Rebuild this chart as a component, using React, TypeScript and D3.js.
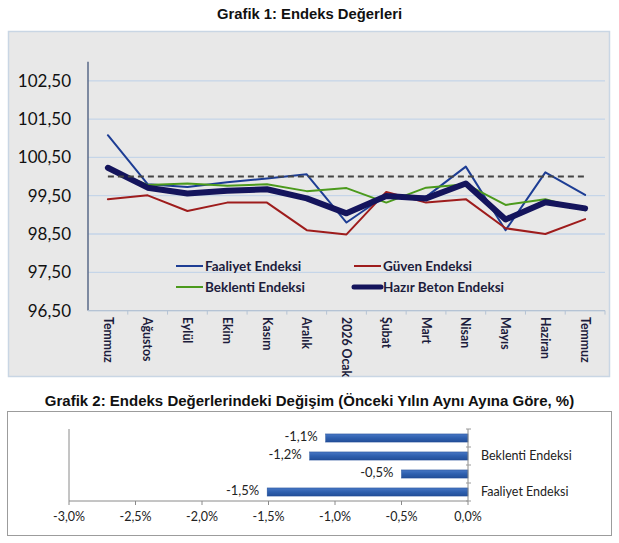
import React from "react";
import * as d3 from "d3";

const months = ["Temmuz", "Ağustos", "Eylül", "Ekim", "Kasım", "Aralık", "2026 Ocak", "Şubat", "Mart", "Nisan", "Mayıs", "Haziran", "Temmuz"];
const faaliyet = [101.08, 99.8, 99.73, 99.85, 99.95, 100.06, 98.8, 99.52, 99.47, 100.26, 98.6, 100.11, 99.52];
const guven = [99.41, 99.51, 99.1, 99.32, 99.32, 98.6, 98.49, 99.6, 99.32, 99.41, 98.65, 98.5, 98.89];
const beklenti = [100.2, 99.78, 99.82, 99.76, 99.8, 99.62, 99.7, 99.32, 99.71, 99.8, 99.26, 99.41, 99.12];
const hazirBeton = [100.23, 99.71, 99.56, 99.63, 99.67, 99.43, 99.04, 99.49, 99.43, 99.82, 98.88, 99.33, 99.17];
const referenceLevel = [100];
const yTicks = [96.5, 97.5, 98.5, 99.5, 100.5, 101.5, 102.5];

const changeCategories = ["Faaliyet Endeksi", "Güven Endeksi", "Beklenti Endeksi", "Hazır Beton Endeksi"];
const changeValues = [-1.51, -0.5, -1.19, -1.07];
const changeTicks = [-3, -2.5, -2, -1.5, -1, -0.5, 0];

const series = [
  { name: "Faaliyet Endeksi", values: faaliyet, color: "#1d3d94", width: 2 },
  { name: "Güven Endeksi", values: guven, color: "#9e1c1c", width: 2 },
  { name: "Beklenti Endeksi", values: beklenti, color: "#4b9a1c", width: 2 },
  { name: "Hazır Beton Endeksi", values: hazirBeton, color: "#14145c", width: 6 },
];

const fmt2 = (v: number) => v.toFixed(2).replace(".", ",");
const fmtPct = (v: number) => (Math.abs(v) < 1e-9 ? 0 : v).toFixed(1).replace(".", ",") + "%";

export default function App() {
  // Chart 1
  const x = d3.scaleBand<number>().domain(months.map((_, i) => i)).range([88, 605]);
  const xc = (i: number) => (x(i) as number) + x.bandwidth() / 2;
  const y = d3.scaleLinear().domain([96.5, 103]).range([310.6, 61.7]);
  const line = d3
    .line<number>()
    .x((_, i) => xc(i))
    .y((d) => y(d));

  // Chart 2
  const bx = d3.scaleLinear().domain([-3, 0]).range([69, 468]);
  const by = d3
    .scaleBand<string>()
    .domain([...changeCategories].reverse())
    .range([429, 501])
    .paddingInner(0.55)
    .paddingOuter(0.275);
  const step = by.step();
  const bandStart = 429;

  const legendItems = [
    { s: series[0], lx: 176, ly: 266 },
    { s: series[1], lx: 354, ly: 266 },
    { s: series[2], lx: 176, ly: 287 },
    { s: series[3], lx: 354, ly: 287 },
  ];

  const font = "Lato, 'Open Sans', sans-serif";

  return (
    <svg width={619} height={543} style={{ position: "absolute", left: 0, top: 0, background: "#fff" }}>
      <defs>
        <linearGradient id="barGrad" x1="0" y1="0" x2="0" y2="1">
          <stop offset="0" stopColor="#4877c4" />
          <stop offset="0.5" stopColor="#2e5fae" />
          <stop offset="1" stopColor="#234f99" />
        </linearGradient>
      </defs>
      {/* Chart 1 title */}
      <text x={309.5} y={18.5} textAnchor="middle" fontFamily="'Liberation Sans', Arial, sans-serif" fontWeight="bold" fontSize={14.8} fill="#111">
        Grafik 1: Endeks Değerleri
      </text>
      {/* Panel */}
      <rect x={8.5} y={31.5} width={601} height={345} fill="#e8e8e8" stroke="#c9d6e4" strokeWidth={1.5} />
      {/* gridlines */}
      {yTicks.map((t) => (
        <line key={t} x1={88} x2={605} y1={y(t)} y2={y(t)} stroke="#c5d5e8" strokeWidth={1.3} />
      ))}
      {/* y axis */}
      <line x1={88} x2={88} y1={y(103)} y2={y(96.5)} stroke="#5a6a88" strokeWidth={1.5} />
      {yTicks.map((t) => (
        <text key={t} x={71} y={y(t)} dy="0.35em" textAnchor="end" fontFamily={font} fontSize={17} fill="#111">
          {fmt2(t)}
        </text>
      ))}
      {/* x axis */}
      <line x1={88} x2={605} y1={y(96.5)} y2={y(96.5)} stroke="#b5c3d4" strokeWidth={1.2} />
      {months.map((_, i) => (
        <line key={"tk" + i} x1={(x(i) as number) + x.bandwidth()} x2={(x(i) as number) + x.bandwidth()} y1={y(96.5)} y2={y(96.5) + 4} stroke="#b5c3d4" strokeWidth={1} />
      ))}
      {months.map((m, i) => (
        <text
          key={"xl" + i}
          transform={`translate(${xc(i)},${317}) rotate(90)`}
          dy="0.35em"
          textAnchor="start"
          fontFamily={font}
          fontWeight="bold"
          fontSize={12.3}
          fill="#1c1c3c"
        >
          {m}
        </text>
      ))}
      {/* series */}
      {series.map((s) => (
        <path key={s.name} d={line(s.values) || ""} fill="none" stroke={s.color} strokeWidth={s.width} strokeLinejoin="round" strokeLinecap="round" />
      ))}
      {/* reference 100 dashed */}
      {referenceLevel.map((r) => (
        <line key={r} x1={xc(0)} x2={xc(months.length - 1)} y1={y(r)} y2={y(r)} stroke="#444" strokeWidth={2} strokeDasharray="6,4" />
      ))}
      {/* legend */}
      {legendItems.map(({ s, lx, ly }) => (
        <g key={"lg" + s.name}>
          <line x1={lx} x2={lx + 27} y1={ly} y2={ly} stroke={s.color} strokeWidth={s.width === 6 ? 5 : 2} strokeLinecap={s.width === 6 ? "round" : "butt"} />
          <text x={lx + 29} y={ly} dy="0.35em" fontFamily={font} fontWeight="bold" fontSize={13.5} fill="#1c1c3c">
            {s.name}
          </text>
        </g>
      ))}

      {/* Chart 2 title */}
      <text x={309.5} y={406} textAnchor="middle" fontFamily="'Liberation Sans', Arial, sans-serif" fontWeight="bold" fontSize={15} fill="#111">
        Grafik 2: Endeks Değerlerindeki Değişim (Önceki Yılın Aynı Ayına Göre, %)
      </text>
      <rect x={7.5} y={411.5} width={604} height={124} fill="#fff" stroke="#9c9c9c" strokeWidth={1} />
      {/* left line and bottom axis */}
      <line x1={bx(-3)} x2={bx(-3)} y1={bandStart} y2={501} stroke="#8a8a8a" strokeWidth={1} />
      <line x1={bx(-3)} x2={bx(0)} y1={501} y2={501} stroke="#8a8a8a" strokeWidth={1} />
      {changeTicks.map((t) => (
        <g key={"bt" + t}>
          <line x1={bx(t)} x2={bx(t)} y1={501} y2={505} stroke="#8a8a8a" strokeWidth={1} />
          <text x={bx(t)} y={517} dy="0.35em" textAnchor="middle" fontFamily={font} fontSize={12.5} fill="#222">
            {fmtPct(t)}
          </text>
        </g>
      ))}
      {/* bars */}
      {changeCategories.map((c, i) => {
        const v = changeValues[i];
        const y0 = by(c) as number;
        return (
          <g key={"bar" + c}>
            <rect x={bx(v)} y={y0} width={bx(0) - bx(v)} height={by.bandwidth()} fill="url(#barGrad)" stroke="#1f4c96" strokeWidth={0.5} />
            <text x={bx(v) - 8} y={y0 + by.bandwidth() / 2 - 2} dy="0.35em" textAnchor="end" fontFamily={font} fontSize={13} fill="#222">
              {fmtPct(v)}
            </text>
          </g>
        );
      })}
      {/* category axis at zero */}
      <line x1={bx(0)} x2={bx(0)} y1={bandStart} y2={501} stroke="#8a8a8a" strokeWidth={1} />
      {d3.range(changeCategories.length + 1).map((k) => (
        <line key={"ct" + k} x1={bx(0) - 2} x2={bx(0) + 3} y1={bandStart + k * step} y2={bandStart + k * step} stroke="#9a9a9a" strokeWidth={1} />
      ))}
      {changeCategories.map((c, i) =>
        i % 2 === 0 ? (
          <text key={"cl" + c} x={481} y={(by(c) as number) + by.bandwidth() / 2} dy="0.35em" fontFamily={font} fontSize={12.5} fill="#222">
            {c}
          </text>
        ) : null
      )}
    </svg>
  );
}
